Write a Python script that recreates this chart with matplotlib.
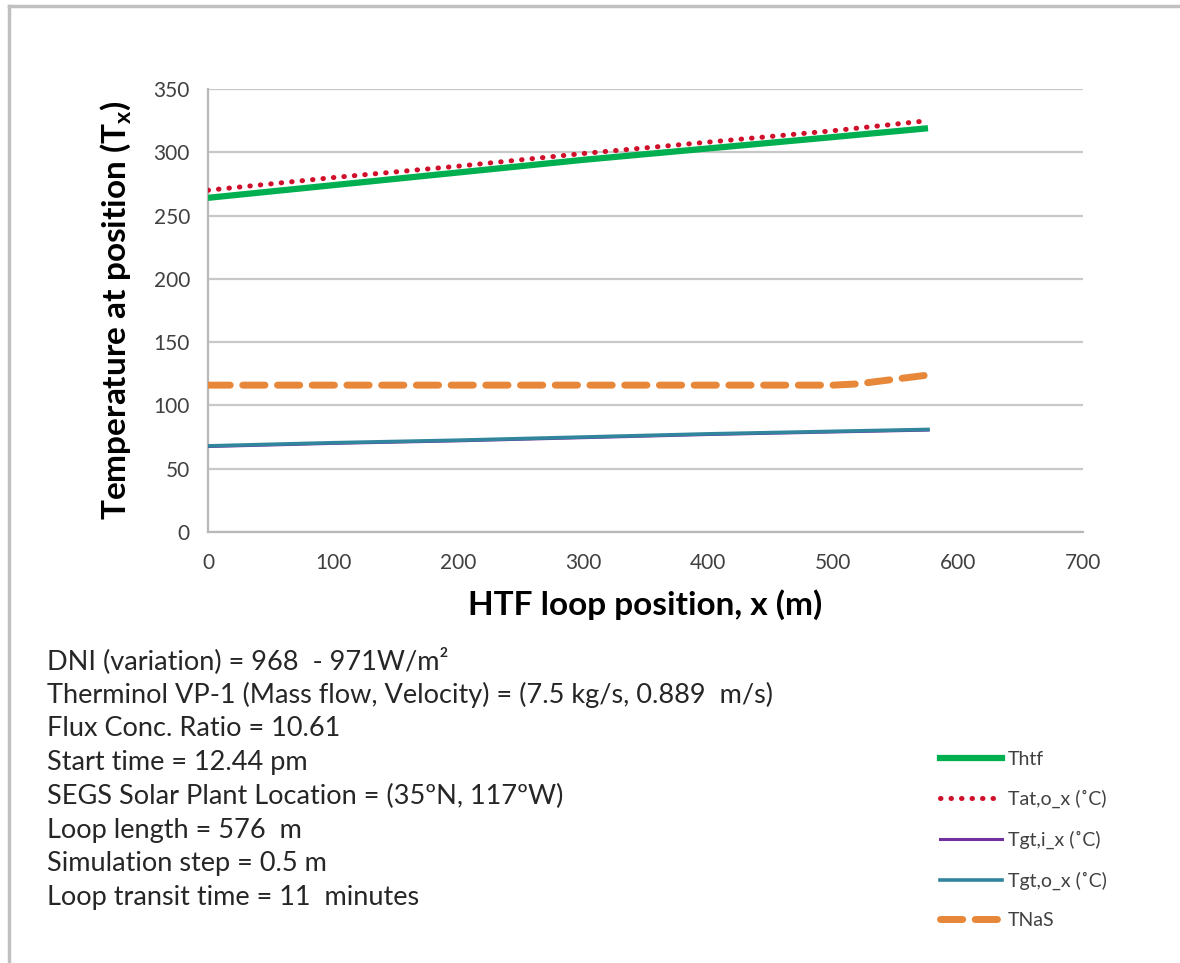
import numpy as np
import matplotlib
matplotlib.use("Agg")
import matplotlib.pyplot as plt
from matplotlib.lines import Line2D

plt.rcParams['font.family'] = ['Lato', 'DejaVu Sans']

# posiciones a lo largo del lazo (m)
x_pos = [0, 100, 200, 300, 400, 500, 576]
t_htf = [264, 274, 284, 294, 303, 312, 319]
t_at_o = [270, 280, 289, 299, 308, 317, 325]
t_gt_i = [67.5, 70, 72, 74.5, 77, 79, 80.5]
t_gt_o = [68, 70.5, 72.5, 75, 77.5, 79.5, 81]

x_nas = [0, 100, 200, 300, 400, 500, 520, 540, 560, 576]
t_nas = [116, 116, 116, 116, 116, 116, 117, 119.5, 122, 124]

labels = ["Thtf", "Tat,o_x (\u02daC)", "Tgt,i_x (\u02daC)", "Tgt,o_x (\u02daC)", "TNaS"]
colors = ["#00B050", "#D0102A", "#7030A0", "#31859C", "#E6873A"]

info_lines = [
    "DNI (variation) = 968  - 971W/m\u00b2",
    "Therminol VP-1 (Mass flow, Velocity) = (7.5 kg/s, 0.889  m/s)",
    "Flux Conc. Ratio = 10.61",
    "Start time = 12.44 pm",
    "SEGS Solar Plant Location = (35\u00baN, 117\u00baW)",
    "Loop length = 576  m",
    "Simulation step = 0.5 m",
    "Loop transit time = 11  minutes",
]

fig = plt.figure(figsize=(11.8, 9.63), dpi=100)
ax = fig.add_axes([0.1763, 0.4476, 0.9178 - 0.1763, 0.9076 - 0.4476])

ax.plot(x_pos, t_htf, color=colors[0], lw=4.5, solid_capstyle='butt', zorder=3)
ax.plot(x_pos, t_at_o, color=colors[1], lw=3.6, linestyle=(0, (0.1, 2.0)),
        dash_capstyle='round', zorder=4)
ax.plot(x_pos, t_gt_i, color=colors[2], lw=2.2, zorder=3)
ax.plot(x_pos, t_gt_o, color=colors[3], lw=2.6, zorder=3)
ax.plot(x_nas, t_nas, color=colors[4], lw=5, linestyle=(0, (3.2, 1.8)),
        dash_capstyle='round', zorder=3)

ax.set_xlim(0, 700)
ax.set_ylim(0, 350)
ax.set_xticks(np.arange(0, 701, 100))
ax.set_yticks(np.arange(0, 351, 50))
ax.tick_params(length=0, labelsize=15, labelcolor="#404040")
ax.tick_params(axis='x', pad=15)
ax.tick_params(axis='y', pad=13)
ax.grid(axis='y', color="#C8C8C8", lw=1.6)
ax.set_axisbelow(True)
for s in ['top', 'right']:
    ax.spines[s].set_visible(False)
for s in ['left', 'bottom']:
    ax.spines[s].set_color("#B8B8B8")
    ax.spines[s].set_linewidth(1.6)

ax.set_xlabel("HTF loop position, x (m)", fontsize=24, fontweight='bold', labelpad=12)
ax.set_ylabel("Temperature at position (T$_\\mathregular{x}$)", fontsize=24,
              fontweight='bold', labelpad=14)

# texto de condiciones
for i, line in enumerate(info_lines):
    fig.text(47 / 1180, 1 - (661 + i * 33.8) / 963, line, fontsize=19.5,
             color="#262626", ha='left', va='center')

# leyenda
handles = [
    Line2D([], [], color=colors[0], lw=4.5),
    Line2D([], [], color=colors[1], lw=3.6, linestyle=(0, (0.1, 2.0)), dash_capstyle='round'),
    Line2D([], [], color=colors[2], lw=2.2),
    Line2D([], [], color=colors[3], lw=2.6),
    Line2D([], [], color=colors[4], lw=5, linestyle=(0, (3.2, 1.8)), dash_capstyle='round'),
]
fig.legend(handles, labels, loc='upper left', bbox_to_anchor=(932 / 1180, 1 - 743 / 963),
           frameon=False, fontsize=14, handlelength=3.2, handletextpad=0.3,
           labelspacing=1.15, borderaxespad=0, labelcolor="#404040")

# marco exterior (solo arriba e izquierda visibles)
fig.add_artist(Line2D([9 / 1180, 9 / 1180], [0, 1 - 6 / 963], color="#C0C0C0", lw=2.5))
fig.add_artist(Line2D([9 / 1180, 1], [1 - 6 / 963, 1 - 6 / 963], color="#C0C0C0", lw=2.5))

fig.savefig("out.png", dpi=100)
